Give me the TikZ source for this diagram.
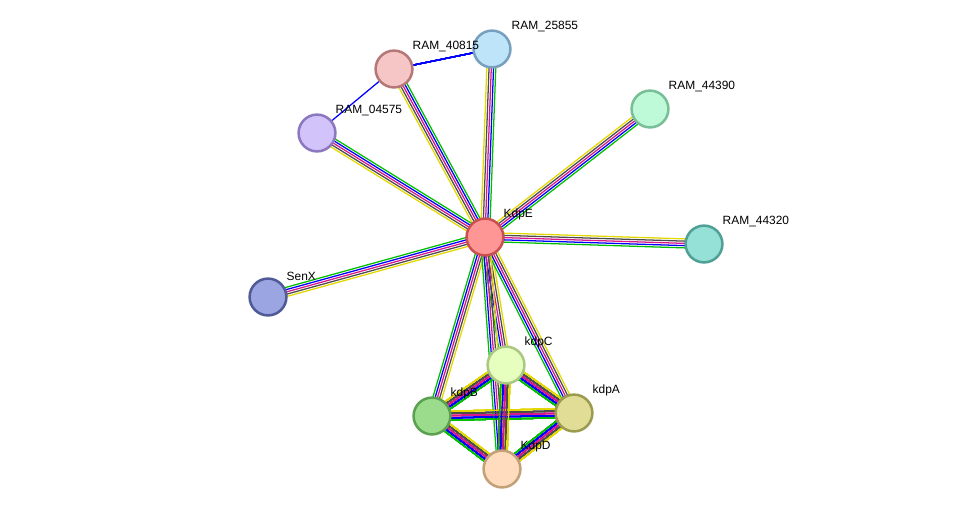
\documentclass[tikz,border=0pt]{standalone}
\usepackage{fontspec}
\setmainfont{Liberation Sans}
\usetikzlibrary{calc,backgrounds}
\newcommand{\bundle}[2]{%
    \foreach \c/\o in {green!75!black/-3.2, blue/-1.6, magenta!80!violet/0, black!70/1.6, yellow!75!olive/3.2}
        \draw [link, \c] ($(#1)!\o pt!90:(#2)$) -- ($(#2)!\o pt!-90:(#1)$);}

\begin{document}
\begin{tikzpicture}[x=0.025cm,y=-0.025cm]
    \tikzstyle{prot} = [draw, shape=circle, line width=1.8pt, minimum size=0.92cm, inner sep=0pt];
    \tikzstyle{lbl} = [font=\fontsize{8.5}{10}\selectfont, anchor=south west, inner sep=1pt];
    \tikzstyle{link} = [line width=0.9pt];

    \useasboundingbox (0,0) rectangle (976,515);

    % Nodes
    \node [prot, fill={rgb,255:red,255;green,150;blue,150}, draw={rgb,255:red,200;green,80;blue,80}] (kdpe) at (485,237) {};
    \node [prot, fill={rgb,255:red,246;green,198;blue,198}, draw={rgb,255:red,180;green,120;blue,120}] (r40815) at (394,69) {};
    \node [prot, fill={rgb,255:red,190;green,228;blue,250}, draw={rgb,255:red,120;green,160;blue,190}] (r25855) at (492,49) {};
    \node [prot, fill={rgb,255:red,210;green,195;blue,250}, draw={rgb,255:red,140;green,120;blue,190}] (r04575) at (317,133) {};
    \node [prot, fill={rgb,255:red,190;green,250;blue,215}, draw={rgb,255:red,120;green,190;blue,150}] (r44390) at (650,109) {};
    \node [prot, fill={rgb,255:red,150;green,225;blue,215}, draw={rgb,255:red,80;green,160;blue,150}] (r44320) at (704,244) {};
    \node [prot, fill={rgb,255:red,155;green,165;blue,225}, draw={rgb,255:red,80;green,90;blue,150}] (senx) at (268,297) {};
    \node [prot, fill={rgb,255:red,230;green,255;blue,190}, draw={rgb,255:red,170;green,200;blue,130}] (kdpc) at (506,365) {};
    \node [prot, fill={rgb,255:red,155;green,220;blue,140}, draw={rgb,255:red,90;green,160;blue,80}] (kdpb) at (432,416) {};
    \node [prot, fill={rgb,255:red,225;green,220;blue,150}, draw={rgb,255:red,155;green,155;blue,80}] (kdpa) at (574,413) {};
    \node [prot, fill={rgb,255:red,255;green,220;blue,190}, draw={rgb,255:red,195;green,160;blue,120}] (kdpd) at (502,469) {};

    % Labels
    \node [lbl] (lkdpe) at (502,222) {KdpE};
    \node [lbl] (l40815) at (411,54) {RAM\_40815};
    \node [lbl] (l25855) at (510,34) {RAM\_25855};
    \node [lbl] (l04575) at (334,118) {RAM\_04575};
    \node [lbl] (l44390) at (667,94) {RAM\_44390};
    \node [lbl] (l44320) at (721,229) {RAM\_44320};
    \node [lbl] (lsenx) at (285,282) {SenX};
    \node [lbl] (lkdpc) at (523,350) {kdpC};
    \node [lbl] (lkdpb) at (449,401) {kdpB};
    \node [lbl] (lkdpa) at (591,398) {kdpA};
    \node [lbl] (lkdpd) at (519,454) {KdpD};

    % Paths
    \begin{pgfonlayer}{background}
        \foreach \t in {r40815,r25855,r04575,r44390,r44320,senx,kdpc,kdpb,kdpa,kdpd}
            \bundle{kdpe}{\t}
        \bundle{kdpb}{kdpc}
        \bundle{kdpb}{kdpa}
        \bundle{kdpb}{kdpd}
        \bundle{kdpc}{kdpa}
        \bundle{kdpc}{kdpd}
        \bundle{kdpa}{kdpd}
        \draw [link, blue] (r40815) -- (r25855);
        \draw [link, blue] (r40815) -- (r04575);
    \end{pgfonlayer}
\end{tikzpicture}
\end{document}
